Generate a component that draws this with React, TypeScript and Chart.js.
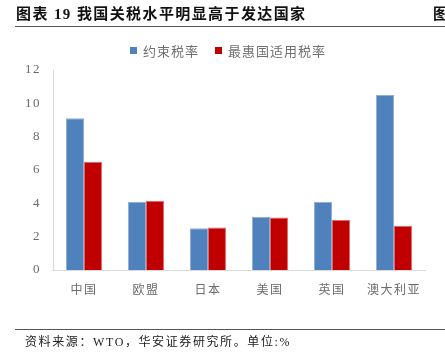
import React, { useEffect, useRef } from "react";
import { Chart, registerables } from "chart.js";

Chart.register(...registerables);

const categories = ["中国", "欧盟", "日本", "美国", "英国", "澳大利亚"];
const boundRates = [9.1, 4.1, 2.5, 3.2, 4.1, 10.5];
const mfnRates = [6.5, 4.15, 2.55, 3.15, 3.0, 2.65];
const seriesNames = ["约束税率", "最惠国适用税率"];
const seriesColors = ["#4F81BD", "#C00000"];
const seriesBorders = ["#8EAED6", "#DD6A6A"];
const yMin = 0;
const yMax = 12;
const yStep = 2;
const titleText = "图表 19 我国关税水平明显高于发达国家";
const sourceText = "资料来源：WTO，华安证券研究所。单位:%";

const decor = {
  id: "decor",
  beforeDraw(chart: any) {
    const ctx = chart.ctx;
    ctx.save();
    ctx.fillStyle = "#ffffff";
    ctx.fillRect(0, 0, chart.width, chart.height);
    ctx.restore();
    ctx.letterSpacing = "1.5px";
  },
  afterDraw(chart: any) {
    const ctx = chart.ctx;
    ctx.save();
    ctx.letterSpacing = "1.4px";
    ctx.textBaseline = "middle";
    ctx.textAlign = "left";
    ctx.fillStyle = "#111111";
    ctx.font = 'bold 15px "Liberation Serif", "Noto Sans CJK SC"';
    ctx.fillText(titleText, 16, 15);
    ctx.fillText("图", 433, 15);
    ctx.strokeStyle = "#555555";
    ctx.lineWidth = 1;
    ctx.beginPath();
    ctx.moveTo(15, 26.5);
    ctx.lineTo(445, 26.5);
    ctx.stroke();

    // legend
    ctx.font = '13px "Noto Sans CJK SC"';
    ctx.letterSpacing = "1px";
    let x = 130;
    chart.data.datasets.forEach((ds: any) => {
      ctx.fillStyle = ds.backgroundColor;
      ctx.fillRect(x, 47, 7, 7);
      ctx.fillStyle = "#707070";
      ctx.fillText(ds.label, x + 13, 51);
      const w = ctx.measureText(ds.label).width;
      x = x + 13 + w + 16;
    });

    // footer
    ctx.strokeStyle = "#555555";
    ctx.beginPath();
    ctx.moveTo(15, 329.5);
    ctx.lineTo(445, 329.5);
    ctx.stroke();
    ctx.fillStyle = "#222222";
    ctx.letterSpacing = "1.6px";
    ctx.font = '12px "Liberation Serif", "Noto Sans CJK SC"';
    ctx.fillText(sourceText, 25, 343);
    ctx.restore();
  },
};

export default function App() {
  const ref = useRef<HTMLCanvasElement | null>(null);
  useEffect(() => {
    if (!ref.current) return;
    const chart = new Chart(ref.current, {
      type: "bar",
      data: {
        labels: categories,
        datasets: [
          {
            label: seriesNames[0],
            data: boundRates,
            backgroundColor: seriesColors[0],
            borderColor: seriesBorders[0],
            borderWidth: 1,
          },
          {
            label: seriesNames[1],
            data: mfnRates,
            backgroundColor: seriesColors[1],
            borderColor: seriesBorders[1],
            borderWidth: 1,
          },
        ],
      },
      options: {
        responsive: false,
        animation: false,
        devicePixelRatio: 1,
        layout: { padding: { top: 70, right: 20, bottom: 54, left: 0 } },
        plugins: {
          legend: { display: false },
          title: { display: false },
          tooltip: { enabled: false },
        },
        datasets: {
          bar: { categoryPercentage: 0.58, barPercentage: 1 },
        },
        scales: {
          x: {
            grid: { display: false, drawTicks: false },
            border: { display: true, color: "#d9d9d9", width: 1 },
            ticks: {
              color: "#6b6b6b",
              padding: 12,
              maxRotation: 0,
              font: { size: 12, family: '"Noto Sans CJK SC"' },
            },
            afterFit(scale: any) {
              scale.height = 30;
            },
          },
          y: {
            min: yMin,
            max: yMax,
            grid: { display: false, drawTicks: false },
            border: { display: true, color: "#d9d9d9", width: 1 },
            ticks: {
              stepSize: yStep,
              color: "#6b6b6b",
              padding: 12,
              font: { size: 13, family: '"Liberation Serif"' },
            },
            afterFit(scale: any) {
              scale.width = 53;
            },
          },
        },
      },
      plugins: [decor],
    });
    return () => chart.destroy();
  }, []);
  return (
    <div style={{ position: "absolute", left: 0, top: 0, width: 445, height: 354 }}>
      <canvas ref={ref} width={445} height={354} style={{ display: "block" }} />
    </div>
  );
}
